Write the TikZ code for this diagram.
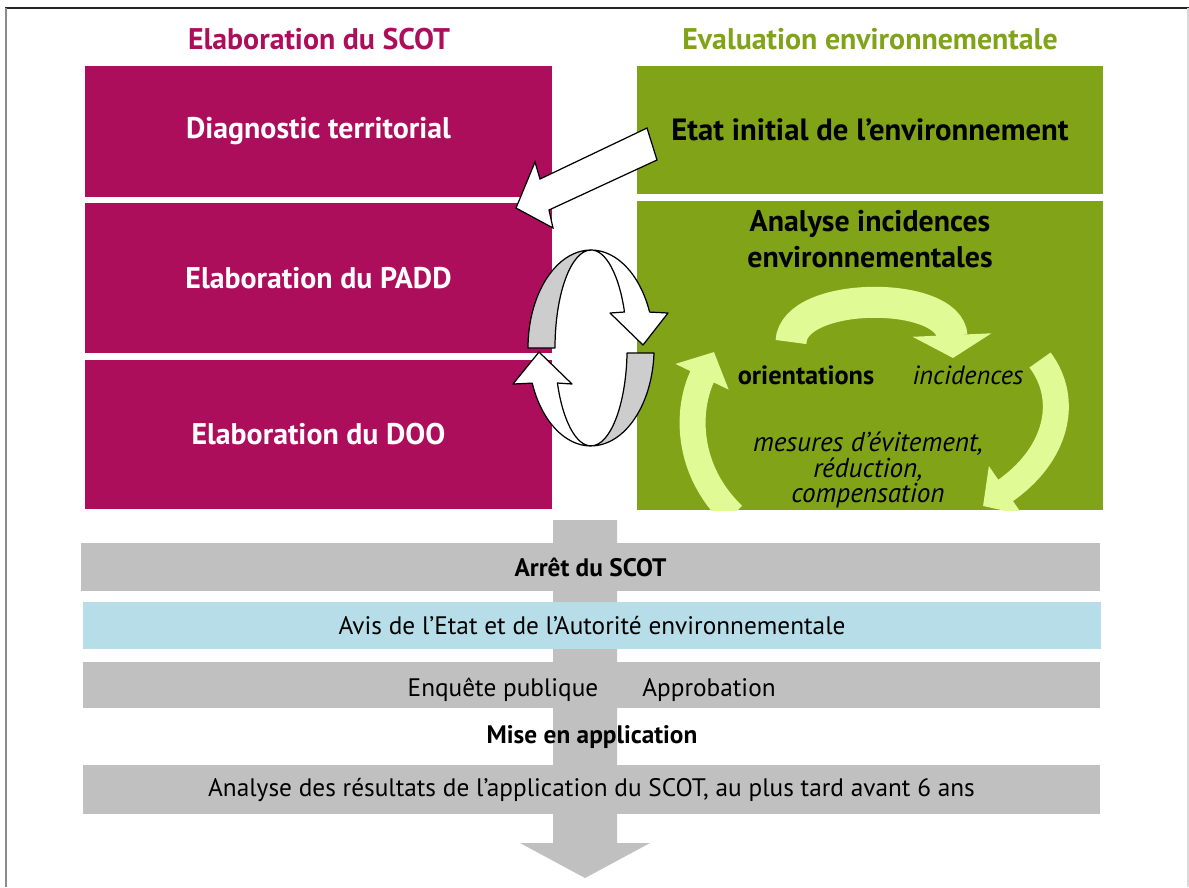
\documentclass[tikz,border=0pt]{standalone}
\usepackage{fontspec}
\setmainfont{PT Sans}
\usetikzlibrary{arrows.meta}
\definecolor{mag}{RGB}{173,14,92}
\definecolor{grn}{RGB}{128,163,24}
\definecolor{lgrn}{RGB}{224,250,150}
\definecolor{lblue}{RGB}{183,222,232}
\definecolor{bgray}{RGB}{192,192,192}
\definecolor{rgray}{RGB}{205,205,205}
\tikzset{
  magbox/.style={fill=mag, text=white, font=\fontsize{17}{20}\selectfont\bfseries, inner sep=0pt, minimum width=9.34cm},
  grnbox/.style={fill=grn, text=black, font=\fontsize{17.5}{20}\selectfont\bfseries, inner sep=0pt, minimum width=9.32cm},
  bar/.style={fill=bgray, inner sep=0pt, minimum width=20.36cm, font=\fontsize{14.4}{17}\selectfont},
  head/.style={font=\fontsize{17}{20}\selectfont\bfseries, inner sep=0pt},
  lbl/.style={inner sep=0pt, font=\fontsize{14.4}{17}\selectfont},
  lgarrow/.style={draw=lgrn, line width=0.62cm},
  ribbon/.style={draw=black, line width=0.7pt, line join=round},
}
\begin{document}
\begin{tikzpicture}[x=0.02cm,y=-0.02cm]
\useasboundingbox (0,0) rectangle (1189,887);
% frame
\draw[black!85, line width=1.6pt] (5,8) -- (1189,8);
\draw[black!45, line width=1.2pt] (6,8) -- (6,887);
\draw[black!15, line width=0.6pt] (1188,8) -- (1188,887);
% headers
\node[head, text=mag] (h1) at (319,39) {Elaboration du SCOT};
\node[head, text=grn] (h2) at (870,39) {Evaluation environnementale};
% left boxes
\node[magbox, minimum height=2.62cm] (diag) at (318.5,131.5) {\raisebox{-2.5pt}{Diagnostic territorial}};
\node[magbox, minimum height=3.0cm] (padd) at (318.5,278) {\raisebox{-1.5pt}{Elaboration du PADD}};
\node[magbox, minimum height=2.98cm] (doo) at (318.5,434.5) {\raisebox{-1.5pt}{Elaboration du DOO}};
% right boxes
\node[grnbox, minimum height=2.56cm] (etat) at (870,130) {\raisebox{-4pt}{Etat initial de l’environnement}};
\node[grnbox, minimum height=6.18cm] (ana) at (870,355.5) {};
\node[head, align=center, font=\fontsize{17}{20.4}\selectfont\bfseries] (anat) at (870,239) {Analyse incidences\\environnementales};
% light green cycle
\begin{scope}
\clip (637,201) rectangle (1103,510);
\draw[lgarrow, -{Triangle[width=1.56cm,length=0.46cm]}] (791,342) .. controls (793,290) and (950,290) .. (953,358);
\draw[lgarrow, line width=0.52cm, -{Triangle[width=1.15cm,length=0.55cm]}] (1040,360) .. controls (1070,400) and (1057,455) .. (983,506);
\draw[lgarrow, line width=0.52cm, -{Triangle[width=1.15cm,length=0.55cm]}] (733,515) .. controls (686,470) and (686,410) .. (714,352);
\end{scope}
\node[lbl, font=\fontsize{15}{17}\selectfont\bfseries] (ori) at (806,375) {orientations};
\node[lbl, font=\fontsize{15}{17}\selectfont\itshape] (inc) at (968,375) {incidences};
\node[lbl, align=center, font=\fontsize{15.5}{14.5}\selectfont\itshape] (mes) at (868,470) {mesures d’évitement,\\réduction,\\compensation};
% white block arrow
\draw[fill=white, draw=black, line width=0.7pt, line join=miter] (647,128) -- (540,179) -- (535,162) -- (516,208) -- (553,228) -- (549,210) -- (657,160) -- cycle;
% circular ribbon arrows
\fill[rgray] (528,348) arc[start angle=180, end angle=90, x radius=1.26cm, y radius=1.96cm]
  arc[start angle=90, end angle=180, x radius=0.72cm, y radius=1.96cm] -- cycle;
\draw[ribbon] (528,348) arc[start angle=180, end angle=90, x radius=1.26cm, y radius=1.96cm]
  arc[start angle=90, end angle=180, x radius=0.72cm, y radius=1.96cm] -- cycle;
\draw[ribbon, fill=white] (591,250) arc[start angle=90, end angle=21.5, x radius=1.26cm, y radius=1.96cm]
  -- (668,313) -- (643,345) -- (610,313) -- (624.5,312)
  arc[start angle=21.5, end angle=90, x radius=0.72cm, y radius=1.96cm] -- cycle;
\draw[ribbon, fill=rgray] (654,353) arc[start angle=-3, end angle=-90, x radius=1.26cm, y radius=1.96cm]
  arc[start angle=-90, end angle=-3, x radius=0.72cm, y radius=1.96cm] -- cycle;
\draw[ribbon, fill=white] (591,446) arc[start angle=270, end angle=201, x radius=1.26cm, y radius=1.96cm]
  -- (513,384) -- (539,352) -- (572,384) -- (557.4,383)
  arc[start angle=201, end angle=270, x radius=0.72cm, y radius=1.96cm] -- cycle;
% big gray arrow
\fill[bgray] (553,520) -- (617,520) -- (617,843) -- (650,843) -- (585,878) -- (520,843) -- (553,843) -- cycle;
% bars
\node[bar, minimum width=20.38cm, minimum height=0.96cm] (arret) at (590.5,567) {\raisebox{-6pt}{\bfseries Arrêt du SCOT}};
\node[bar, fill=lblue, minimum height=0.94cm] (avis) at (592,625.5) {\raisebox{-5pt}{Avis de l’Etat et de l’Autorité environnementale}};
\node[bar, minimum height=0.92cm] (enq) at (591.5,685) {};
\node[lbl] (enqt) at (503,690) {Enquête publique};
\node[lbl] (appr) at (709,690) {Approbation};
\node[lbl, font=\fontsize{14.4}{17}\selectfont\bfseries] (mise) at (592,737) {Mise en application};
\node[bar, minimum height=0.98cm] (res) at (591.5,789.5) {\raisebox{-2pt}{Analyse des résultats de l’application du SCOT, au plus tard avant 6 ans}};
\end{tikzpicture}
\end{document}
